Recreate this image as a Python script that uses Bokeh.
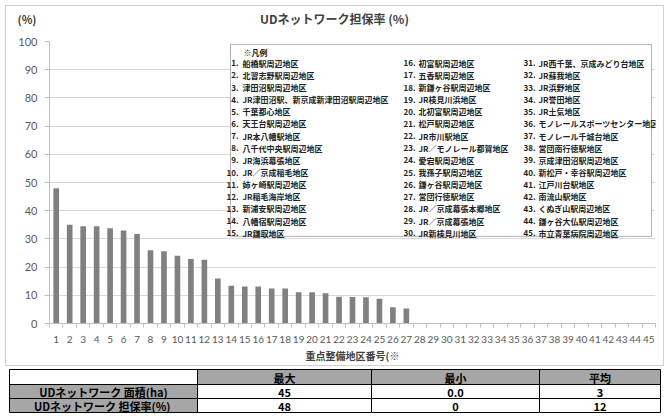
from bokeh.plotting import figure
from bokeh.models import Range1d, FixedTicker, BoxAnnotation, Label, ColumnDataSource
from bokeh.layouts import column
from bokeh.embed import file_html
from bokeh.resources import INLINE
from bokeh.core.properties import value

# ---------------- data ----------------
district_no = [1, 2, 3, 4, 5, 6, 7, 8, 9, 10, 11, 12, 13, 14, 15, 16, 17, 18, 19, 20,
               21, 22, 23, 24, 25, 26, 27, 28, 29, 30, 31, 32, 33, 34, 35, 36, 37, 38,
               39, 40, 41, 42, 43, 44, 45]
coverage_pct = [48, 35, 34.5, 34.5, 33.8, 33, 31.7, 26, 25.6, 24, 22.9, 22.6, 16, 13.4,
                13.1, 13.1, 12.4, 12.4, 11.1, 11.1, 10.7, 9.5, 9.4, 9.3, 8.8, 5.8, 5.3,
                0, 0, 0, 0, 0, 0, 0, 0, 0, 0, 0, 0, 0, 0, 0, 0, 0, 0]
y_ticks = [0, 10, 20, 30, 40, 50, 60, 70, 80, 90, 100]

district_names = [
    "船橋駅周辺地区", "北習志野駅周辺地区", "津田沼駅周辺地区",
    "JR津田沼駅、新京成新津田沼駅周辺地区", "千葉都心地区", "天王台駅周辺地区",
    "JR本八幡駅地区", "八千代中央駅周辺地区", "JR海浜幕張地区", "JR／京成稲毛地区",
    "姉ヶ崎駅周辺地区", "JR稲毛海岸地区", "新浦安駅周辺地区", "八幡宿駅周辺地区",
    "JR鎌取地区",
    "初富駅周辺地区", "五香駅周辺地区", "新鎌ヶ谷駅周辺地区", "JR検見川浜地区",
    "北初富駅周辺地区", "松戸駅周辺地区", "JR市川駅地区", "JR／モノレール都賀地区",
    "愛宕駅周辺地区", "我孫子駅周辺地区", "鎌ヶ谷駅周辺地区", "営団行徳駅地区",
    "JR／京成幕張本郷地区", "JR／京成幕張地区", "JR新検見川地区",
    "JR西千葉、京成みどり台地区", "JR蘇我地区", "JR浜野地区", "JR誉田地区", "JR土気地区",
    "モノレールスポーツセンター地区", "モノレール千城台地区", "営団南行徳駅地区",
    "京成津田沼駅周辺地区", "新松戸・幸谷駅周辺地区", "江戸川台駅地区", "南流山駅地区",
    "くぬぎ山駅周辺地区", "鎌ヶ谷大仏駅周辺地区", "市立青葉病院周辺地区",
]

chart_title = "UDネットワーク担保率 (%)"
y_unit = "(%)"
x_title = "重点整備地区番号(※"
legend_title = "※凡例"

table_col_headers = ["最大", "最小", "平均"]
table_row_labels = ["UDネットワーク 面積(ha)", "UDネットワーク  担保率(%)"]
area_stats = ["45", "0.0", "3"]
rate_stats = ["48", "0", "12"]

JP = "Noto Sans CJK JP"
LAT = "Lato"

# page geometry: chart box inner origin at page (6, 6)
OX, OY = 6, 6
INNER_W = 657
HEAD_H = 30
MAIN_H = 329

# ---------------- header (title + unit) ----------------
h = figure(width=INNER_W, height=HEAD_H, x_range=Range1d(0, INNER_W), y_range=Range1d(HEAD_H, 0),
           output_backend="svg", toolbar_location=None, min_border=0,
           x_axis_location=None, y_axis_location=None)
h.frame_align = False
h.outline_line_color = None
h.xgrid.grid_line_color = None
h.ygrid.grid_line_color = None
h.text(x=[334 - OX], y=[18 - OY], text=[chart_title], text_align="center", text_baseline="middle",
       text_font=value(JP), text_font_size="12px", text_font_style="bold", text_color="#404040")
h.text(x=[17 - OX], y=[18 - OY], text=[y_unit], text_align="left", text_baseline="middle",
       text_font=value(JP), text_font_size="11px", text_font_style="bold", text_color="#404040")

# ---------------- main chart ----------------
FL, FR, FT, FB = 49, 655, 41, 329          # frame edges in page pixels
XPX = (FR - FL) / 45.0
YPX = (FB - FT) / 100.0


def px2x(px):
    return 0.5 + (px - FL) / XPX


def py2y(py):
    return (FB - py) / YPX


top0 = OY + HEAD_H
p = figure(width=INNER_W, height=MAIN_H, x_range=Range1d(0.5, 45.5), y_range=Range1d(0, 100),
           output_backend="svg", toolbar_location=None,
           min_border_left=FL - OX, min_border_right=OX + INNER_W - FR,
           min_border_top=FT - top0, min_border_bottom=top0 + MAIN_H - FB)
p.frame_align = False
p.outline_line_color = None
p.background_fill_color = "white"
p.border_fill_color = "white"

p.vbar(x=district_no, top=coverage_pct, width=0.42, fill_color="#808080", line_color=None)

p.xgrid.grid_line_color = None
p.ygrid.grid_line_color = "#d9d9d9"
p.ygrid.ticker = FixedTicker(ticks=y_ticks)

p.yaxis.ticker = FixedTicker(ticks=y_ticks)
p.yaxis.axis_line_color = "#bfbfbf"
p.yaxis.major_tick_line_color = "#bfbfbf"
p.yaxis.major_tick_out = 5
p.yaxis.major_tick_in = 0
p.yaxis.minor_tick_line_color = None
p.yaxis.major_label_text_font = LAT
p.yaxis.major_label_text_font_size = "11px"
p.yaxis.major_label_text_color = "#595959"
p.yaxis.major_label_standoff = 7

p.xaxis.ticker = FixedTicker(ticks=district_no, minor_ticks=[i + 0.5 for i in range(46)])
p.xaxis.axis_line_color = "#bfbfbf"
p.xaxis.major_tick_line_color = None
p.xaxis.minor_tick_line_color = "#bfbfbf"
p.xaxis.minor_tick_out = 4
p.xaxis.minor_tick_in = 0
p.xaxis.major_label_text_font = LAT
p.xaxis.major_label_text_font_size = "10px"
p.xaxis.major_label_text_color = "#595959"
p.xaxis.major_label_standoff = 6
p.xaxis.axis_label = x_title
p.xaxis.axis_label_text_font = JP
p.xaxis.axis_label_text_font_size = "10px"
p.xaxis.axis_label_text_font_style = "bold"
p.xaxis.axis_label_text_color = "#404040"
p.xaxis.axis_label_standoff = 2

# legend box
p.add_layout(BoxAnnotation(left=px2x(230), right=px2x(651), top=py2y(44), bottom=py2y(240),
                           fill_color="white", fill_alpha=1, line_color="black", line_width=1))
p.add_layout(Label(x=px2x(243), y=py2y(52), text=legend_title, text_align="left",
                   text_baseline="middle", text_font=JP, text_font_size="8px",
                   text_font_style="bold", text_color="#222222"))
num_right = [238, 415, 535]
name_left = [242, 418, 538]
for i, (n, name) in enumerate(zip(district_no, district_names)):
    col, row = divmod(i, 15)
    yy = py2y(63.3 + 12.39 * row)
    p.add_layout(Label(x=px2x(num_right[col]), y=yy, text=f"{n}.", text_align="right",
                       text_baseline="middle", text_font=JP, text_font_size="8px",
                       text_font_style="bold", text_color="#222222"))
    p.add_layout(Label(x=px2x(name_left[col]), y=yy, text=name, text_align="left",
                       text_baseline="middle", text_font=JP, text_font_size="8px",
                       text_font_style="bold", text_color="#222222"))

chart_box = column(h, p, spacing=0, margin=(5, 4, 2, 5),
                   styles={"border": "1px solid #d0d0d0"})

# ---------------- table ----------------
TH = 51
t = figure(width=668, height=TH, x_range=Range1d(0, 668), y_range=Range1d(TH, 0),
           output_backend="svg", toolbar_location=None, min_border=0,
           x_axis_location=None, y_axis_location=None)
t.frame_align = False
t.outline_line_color = None
t.xgrid.grid_line_color = None
t.ygrid.grid_line_color = None

col_edges = [9, 197, 371, 539, 660]
row_edges = [1, 16, 30, 44]
grid_rows = [[""] + table_col_headers,
             [table_row_labels[0]] + area_stats,
             [table_row_labels[1]] + rate_stats]

L, R, T, B, fills, txt, tx, ty = [], [], [], [], [], [], [], []
for r, row in enumerate(grid_rows):
    for c, cell in enumerate(row):
        L.append(col_edges[c]); R.append(col_edges[c + 1])
        T.append(row_edges[r]); B.append(row_edges[r + 1])
        gray = (r == 0 and c > 0) or (r > 0 and c == 0)
        fills.append("#a6a6a6" if gray else "white")
        txt.append(cell)
        tx.append((col_edges[c] + col_edges[c + 1]) / 2)
        ty.append((row_edges[r] + row_edges[r + 1]) / 2 + 0.5)

src = ColumnDataSource(dict(left=L, right=R, top=T, bottom=B, fill=fills, text=txt, x=tx, y=ty))
t.quad(left="left", right="right", top="top", bottom="bottom", fill_color="fill",
       line_color="black", line_width=1, source=src)
t.text(x="x", y="y", text="text", text_align="center", text_baseline="middle",
       text_font=value(JP), text_font_size="11px", text_font_style="bold",
       text_color="black", source=src)

layout = column(chart_box, t, spacing=0)
open("out.html", "w").write(file_html(layout, INLINE))
